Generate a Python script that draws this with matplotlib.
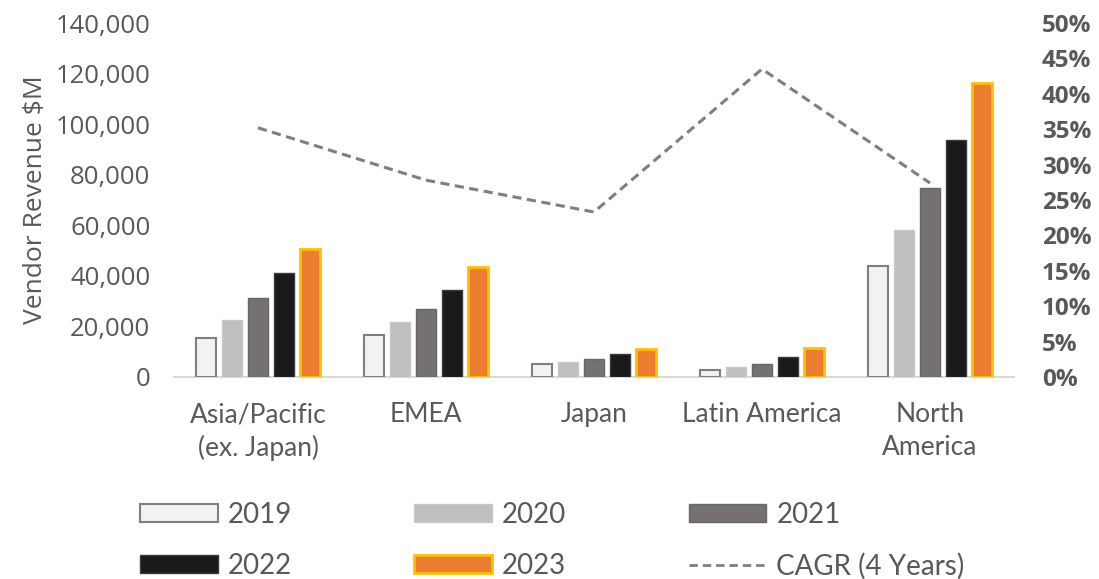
import matplotlib
matplotlib.use("Agg")
import matplotlib.pyplot as plt
import numpy as np
from matplotlib.patches import Patch
from matplotlib.lines import Line2D
from matplotlib.ticker import FuncFormatter

categories = ["Asia/Pacific\n(ex. Japan)", "EMEA", "Japan", "Latin America", "North\nAmerica"]
years = ["2019", "2020", "2021", "2022", "2023"]
rev_2019 = [15400, 16600, 5100, 2800, 43900]
rev_2020 = [22500, 21700, 5900, 4000, 58100]
rev_2021 = [31200, 26900, 7100, 5100, 74700]
rev_2022 = [41100, 34400, 9100, 7900, 93700]
rev_2023 = [50600, 43500, 11000, 11500, 116300]
cagr = [0.352, 0.278, 0.233, 0.435, 0.274]
left_ticks = [0, 20000, 40000, 60000, 80000, 100000, 120000, 140000]
right_ticks = [0, 0.05, 0.10, 0.15, 0.20, 0.25, 0.30, 0.35, 0.40, 0.45, 0.50]

series = [rev_2019, rev_2020, rev_2021, rev_2022, rev_2023]
faces = ["#f2f2f2", "#bfbfbf", "#767171", "#1a1a1a", "#ed7d31"]
edges = ["#7f7f7f", "#c8c8c8", "#6a6666", "#3a3a3a", "#ffc000"]
lws = [1.5, 1.0, 1.0, 1.0, 2.0]

txt = "#595959"
tick_font = "Open Sans"
cat_font = "Lato"

fig = plt.figure(figsize=(10.99, 5.79), dpi=100)
ax = fig.add_axes([174/1099, 1-377/579, (1014-174)/1099, (377-23)/579])
x = np.arange(len(categories))
step = 0.154
width = 0.12
for i, (vals, fc, ec, lw) in enumerate(zip(series, faces, edges, lws)):
    ax.bar(x + (i-2)*step, vals, width, color=fc, edgecolor=ec, linewidth=lw, zorder=3)

ax.set_xlim(-0.5, 4.5)
ax.set_ylim(0, 140000)
ax.set_yticks(left_ticks)
ax.yaxis.set_major_formatter(FuncFormatter(lambda v, p: f"{int(v):,}"))
ax.set_xticks(x)
ax.set_xticklabels(categories, fontfamily=cat_font, fontsize=19, color=txt, linespacing=1.38)
for s in ["top", "right", "left"]:
    ax.spines[s].set_visible(False)
ax.spines["bottom"].set_color("#d9d9d9")
ax.spines["bottom"].set_linewidth(1.5)
ax.tick_params(axis="y", length=0, pad=17, labelsize=18.5, labelcolor=txt)
ax.tick_params(axis="x", length=0, pad=18)
for lab in ax.get_yticklabels():
    lab.set_fontfamily(tick_font)
ax.set_ylabel("Vendor Revenue $M", fontfamily=tick_font, fontsize=19, color=txt, labelpad=5)

ax2 = ax.twinx()
ax2.plot(x, cagr, color="#7f7f7f", linestyle=(0, (3, 1.8)), linewidth=2.2, zorder=4)
ax2.set_ylim(0, 0.5)
ax2.set_yticks(right_ticks)
ax2.yaxis.set_major_formatter(FuncFormatter(lambda v, p: f"{v*100:.0f}%"))
for s in ["top", "right", "left", "bottom"]:
    ax2.spines[s].set_visible(False)
ax2.tick_params(axis="y", length=0, pad=20, labelsize=17.5, labelcolor=txt)
for lab in ax2.get_yticklabels():
    lab.set_fontfamily(tick_font)
    lab.set_fontweight("bold")

handles = [Patch(facecolor=f, edgecolor=e, linewidth=l) for f, e, l in zip(faces, edges, lws)]
handles.append(Line2D([0], [0], color="#7f7f7f", linestyle=(0, (3, 1.8)), linewidth=2))
labels = years + ["CAGR (4 Years)"]
order = [0, 3, 1, 4, 2, 5]
fig.legend([handles[i] for i in order], [labels[i] for i in order], ncol=3,
           loc="upper left", bbox_to_anchor=(126/1099, 1-488/579), frameon=False,
           borderpad=0, handlelength=2.8, handleheight=0.65, handletextpad=0.36,
           columnspacing=4.4, labelspacing=0.9,
           prop={"family": cat_font, "size": 20}, labelcolor=txt)

fig.savefig("out.png", dpi=100)
